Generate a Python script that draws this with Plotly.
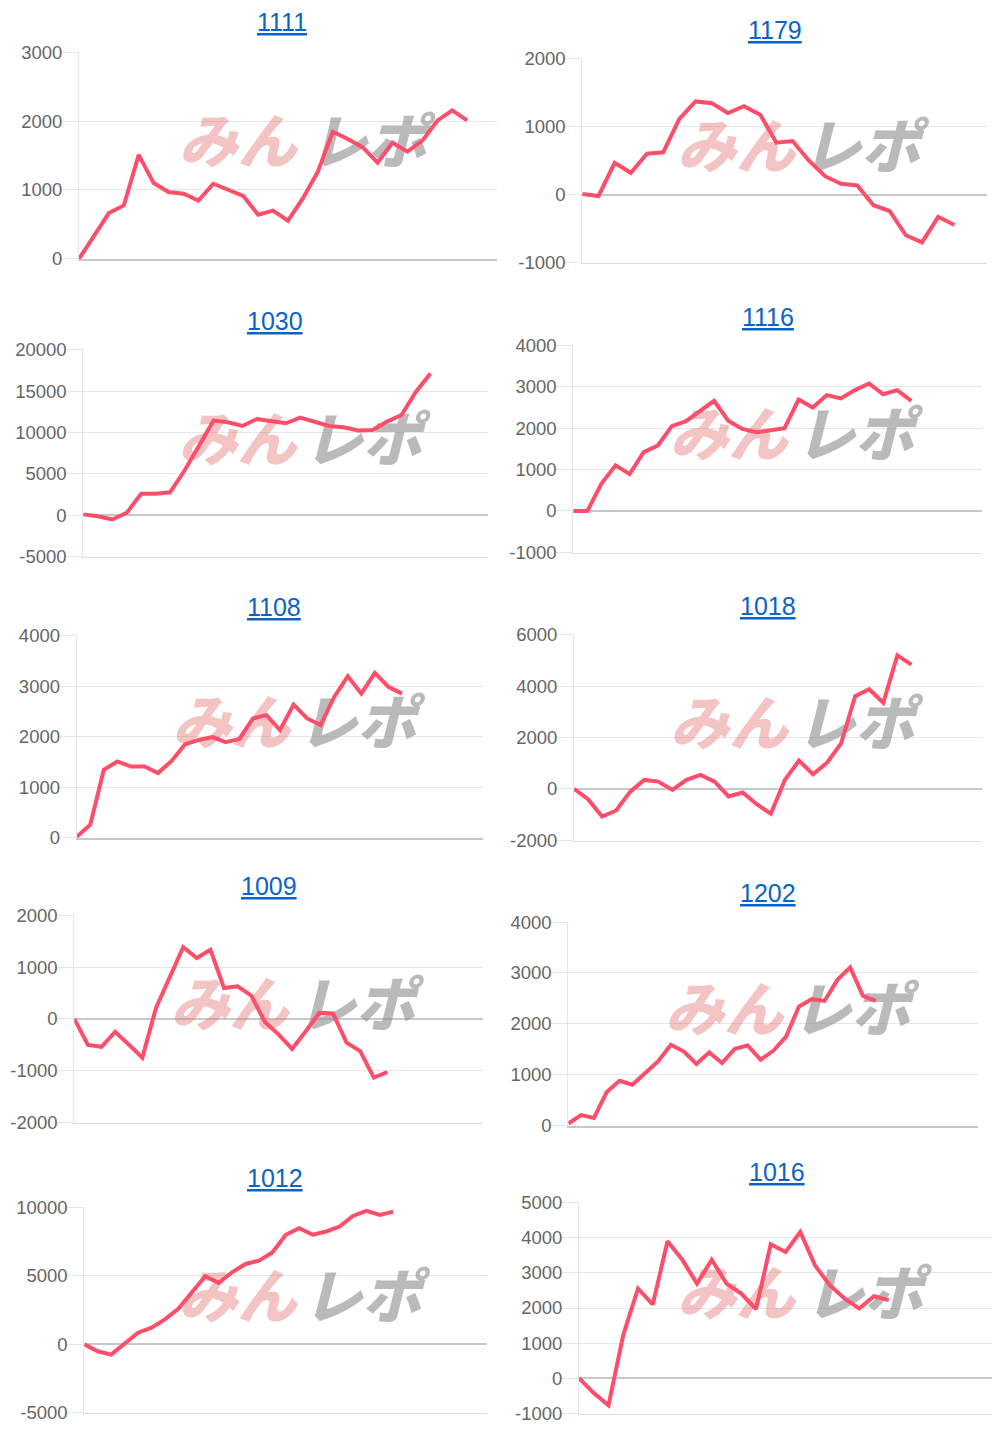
import plotly.graph_objects as go

# ---------------- data ----------------
titles = ["1111", "1179", "1030", "1116", "1108", "1018", "1009", "1202", "1012", "1016"]

s1111 = [0, 330, 665, 775, 1510, 1100, 970, 945, 845, 1090, 1010, 915, 640, 700, 555, 880,
         1265, 1845, 1740, 1620, 1395, 1685, 1555, 1715, 2005, 2155, 2010]
s1179 = [10, -20, 465, 320, 600, 620, 1110, 1365, 1340, 1195, 1295, 1170, 760, 785, 500, 270,
         160, 135, -155, -240, -595, -700, -325, -445]
s1030 = [100, -120, -520, 280, 2600, 2600, 2770, 5400, 8400, 11430, 11230, 10790, 11630, 11430,
         11110, 11790, 11310, 10790, 10630, 10230, 10310, 11310, 12110, 14920, 17120]
s1116 = [0, 0, 660, 1100, 890, 1420, 1580, 2050, 2170, 2420, 2660, 2180, 1980, 1900, 1960, 2000,
         2690, 2500, 2800, 2720, 2920, 3080, 2820, 2920, 2660]
s1108 = [20, 260, 1345, 1510, 1410, 1410, 1280, 1520, 1850, 1935, 1990, 1890, 1955, 2360, 2425,
         2130, 2635, 2360, 2230, 2785, 3195, 2850, 3260, 2985, 2850]
s1018 = [0, -400, -1075, -840, -105, 350, 285, -40, 350, 545, 285, -295, -140, -595, -970, 350,
         1100, 570, 1020, 1770, 3605, 3880, 3350, 5195, 4835]
s1009 = [0, -505, -540, -250, -495, -750, 210, 790, 1385, 1175, 1335, 595, 630, 450, -60, -300,
         -580, -240, 115, 105, -460, -625, -1135, -1030]
s1202 = [40, 205, 150, 660, 880, 805, 1035, 1260, 1590, 1460, 1210, 1440, 1230, 1510, 1575, 1295,
         1470, 1750, 2340, 2485, 2450, 2865, 3110, 2550, 2450]
s1012 = [0, -510, -750, 50, 845, 1210, 1815, 2590, 3800, 4960, 4475, 5250, 5855, 6095, 6700, 7985,
         8465, 7985, 8225, 8585, 9360, 9725, 9435, 9675]
s1016 = [0, -425, -775, 1230, 2555, 2100, 3900, 3375, 2695, 3375, 2695, 2410, 1970, 3815, 3595,
         4165, 3215, 2650, 2270, 1985, 2335, 2225]

series = [s1111, s1179, s1030, s1116, s1108, s1018, s1009, s1202, s1012, s1016]

# y tick values per chart (tick labels)
ticks1111 = [0, 1000, 2000, 3000]
ticks1179 = [-1000, 0, 1000, 2000]
ticks1030 = [-5000, 0, 5000, 10000, 15000, 20000]
ticks1116 = [-1000, 0, 1000, 2000, 3000, 4000]
ticks1108 = [0, 1000, 2000, 3000, 4000]
ticks1018 = [-2000, 0, 2000, 4000, 6000]
ticks1009 = [-2000, -1000, 0, 1000, 2000]
ticks1202 = [0, 1000, 2000, 3000, 4000]
ticks1012 = [-5000, 0, 5000, 10000]
ticks1016 = [-1000, 0, 1000, 2000, 3000, 4000, 5000]
tick_sets = [ticks1111, ticks1179, ticks1030, ticks1116, ticks1108,
             ticks1018, ticks1009, ticks1202, ticks1012, ticks1016]

# number of category slots on each x axis
slots = [28, 25, 28, 29, 30, 29, 30, 32, 30, 28]

# ---------------- layout geometry (page pixels) ----------------
PAGE_W, PAGE_H = 1000, 1439
BODY = 8                       # default browser body margin
W, H = PAGE_W - 2 * BODY, PAGE_H - 2 * BODY
# (left, right, top, bottom) of each plot area, title centre (x, y) in page pixels
boxes = [
    (79, 497, 51.7, 259.3, 281.5, 22),
    (582.3, 986.7, 57.7, 263.3, 775, 30),
    (83.3, 488.3, 349.3, 557, 275, 320.7),
    (573.3, 981.7, 345, 552.7, 767.7, 316.7),
    (76.7, 483.3, 635, 838.3, 274.3, 607.3),
    (574, 981.7, 634.3, 840.7, 768.3, 606),
    (74.3, 482.7, 915, 1122.7, 269, 886),
    (568.3, 978.3, 921.7, 1126, 767.7, 893.3),
    (84.3, 487.3, 1206.7, 1413.3, 275, 1177.7),
    (579, 993.3, 1202.3, 1413.7, 776.7, 1172.3),
]


def fx(px):
    return min(1.0, max(0.0, (px - BODY) / W))


def fy(py):
    return min(1.0, max(0.0, 1 - (py - BODY) / H))


LINE = "#ff4d6a"
GRID = "#e6e6e6"
ZERO = "#c8c8c8"
TICKFONT = dict(family="Liberation Sans, Arial, sans-serif", size=18.5, color="#666666")

fig = go.Figure()
layout = dict(width=W, height=H, margin=dict(l=0, r=0, t=0, b=0, autoexpand=False),
              paper_bgcolor="white", plot_bgcolor="white", showlegend=False,
              annotations=[])

for i, (vals, tks, k, box, title) in enumerate(zip(series, tick_sets, slots, boxes, titles)):
    n = i + 1
    xa = "x" if n == 1 else f"x{n}"
    ya = "y" if n == 1 else f"y{n}"
    lo, hi = min(tks), max(tks)
    eps = (hi - lo) * 0.002
    x0, x1, yt, yb, tcx, tcy = box

    # watermark (drawn first so the line sits on top)
    fig.add_trace(go.Scatter(
        x=[0.38 * k, 0.69 * k], y=[lo + 0.535 * (hi - lo)] * 2,
        mode="text", text=["みん", "レポ"],
        textfont=dict(family="Noto Sans CJK JP", size=59, weight=900, style="italic",
                      color=["rgba(228,112,112,0.42)", "rgba(140,140,140,0.6)"]),
        hoverinfo="skip", cliponaxis=False, xaxis=xa, yaxis=ya))

    fig.add_trace(go.Scatter(
        x=list(range(len(vals))), y=vals, mode="lines",
        line=dict(color=LINE, width=4, shape="linear"),
        hoverinfo="skip", cliponaxis=False, xaxis=xa, yaxis=ya))

    xkey = "xaxis" if n == 1 else f"xaxis{n}"
    ykey = "yaxis" if n == 1 else f"yaxis{n}"
    layout[xkey] = dict(domain=[fx(x0), fx(x1)], range=[0, k], anchor=ya, automargin=False,
                        showgrid=False, zeroline=False, showticklabels=False,
                        showline=True, linecolor=ZERO if lo == 0 else "#dcdcdc",
                        linewidth=2 if lo == 0 else 1, ticks="")
    layout[ykey] = dict(domain=[fy(yb), fy(yt)], range=[lo - eps, hi + eps], anchor=xa,
                        automargin=False,
                        tickvals=tks, ticktext=[str(t) for t in tks],
                        showgrid=True, gridcolor=GRID, gridwidth=1,
                        zeroline=True, zerolinecolor=ZERO, zerolinewidth=2,
                        showline=True, linecolor=GRID, linewidth=1,
                        ticks="outside", ticklen=16, tickcolor=GRID, tickwidth=1,
                        ticklabelstandoff=-4,
                        tickfont=TICKFONT)
    layout["annotations"].append(dict(
        text=f"<u>{title}</u>", x=fx(tcx), y=fy(tcy), xref="paper", yref="paper",
        xanchor="center", yanchor="middle", showarrow=False,
        font=dict(family="Liberation Sans, Arial, sans-serif", size=25, color="#0a64c8")))

fig.update_layout(**layout)
fig.write_html("out.html")
